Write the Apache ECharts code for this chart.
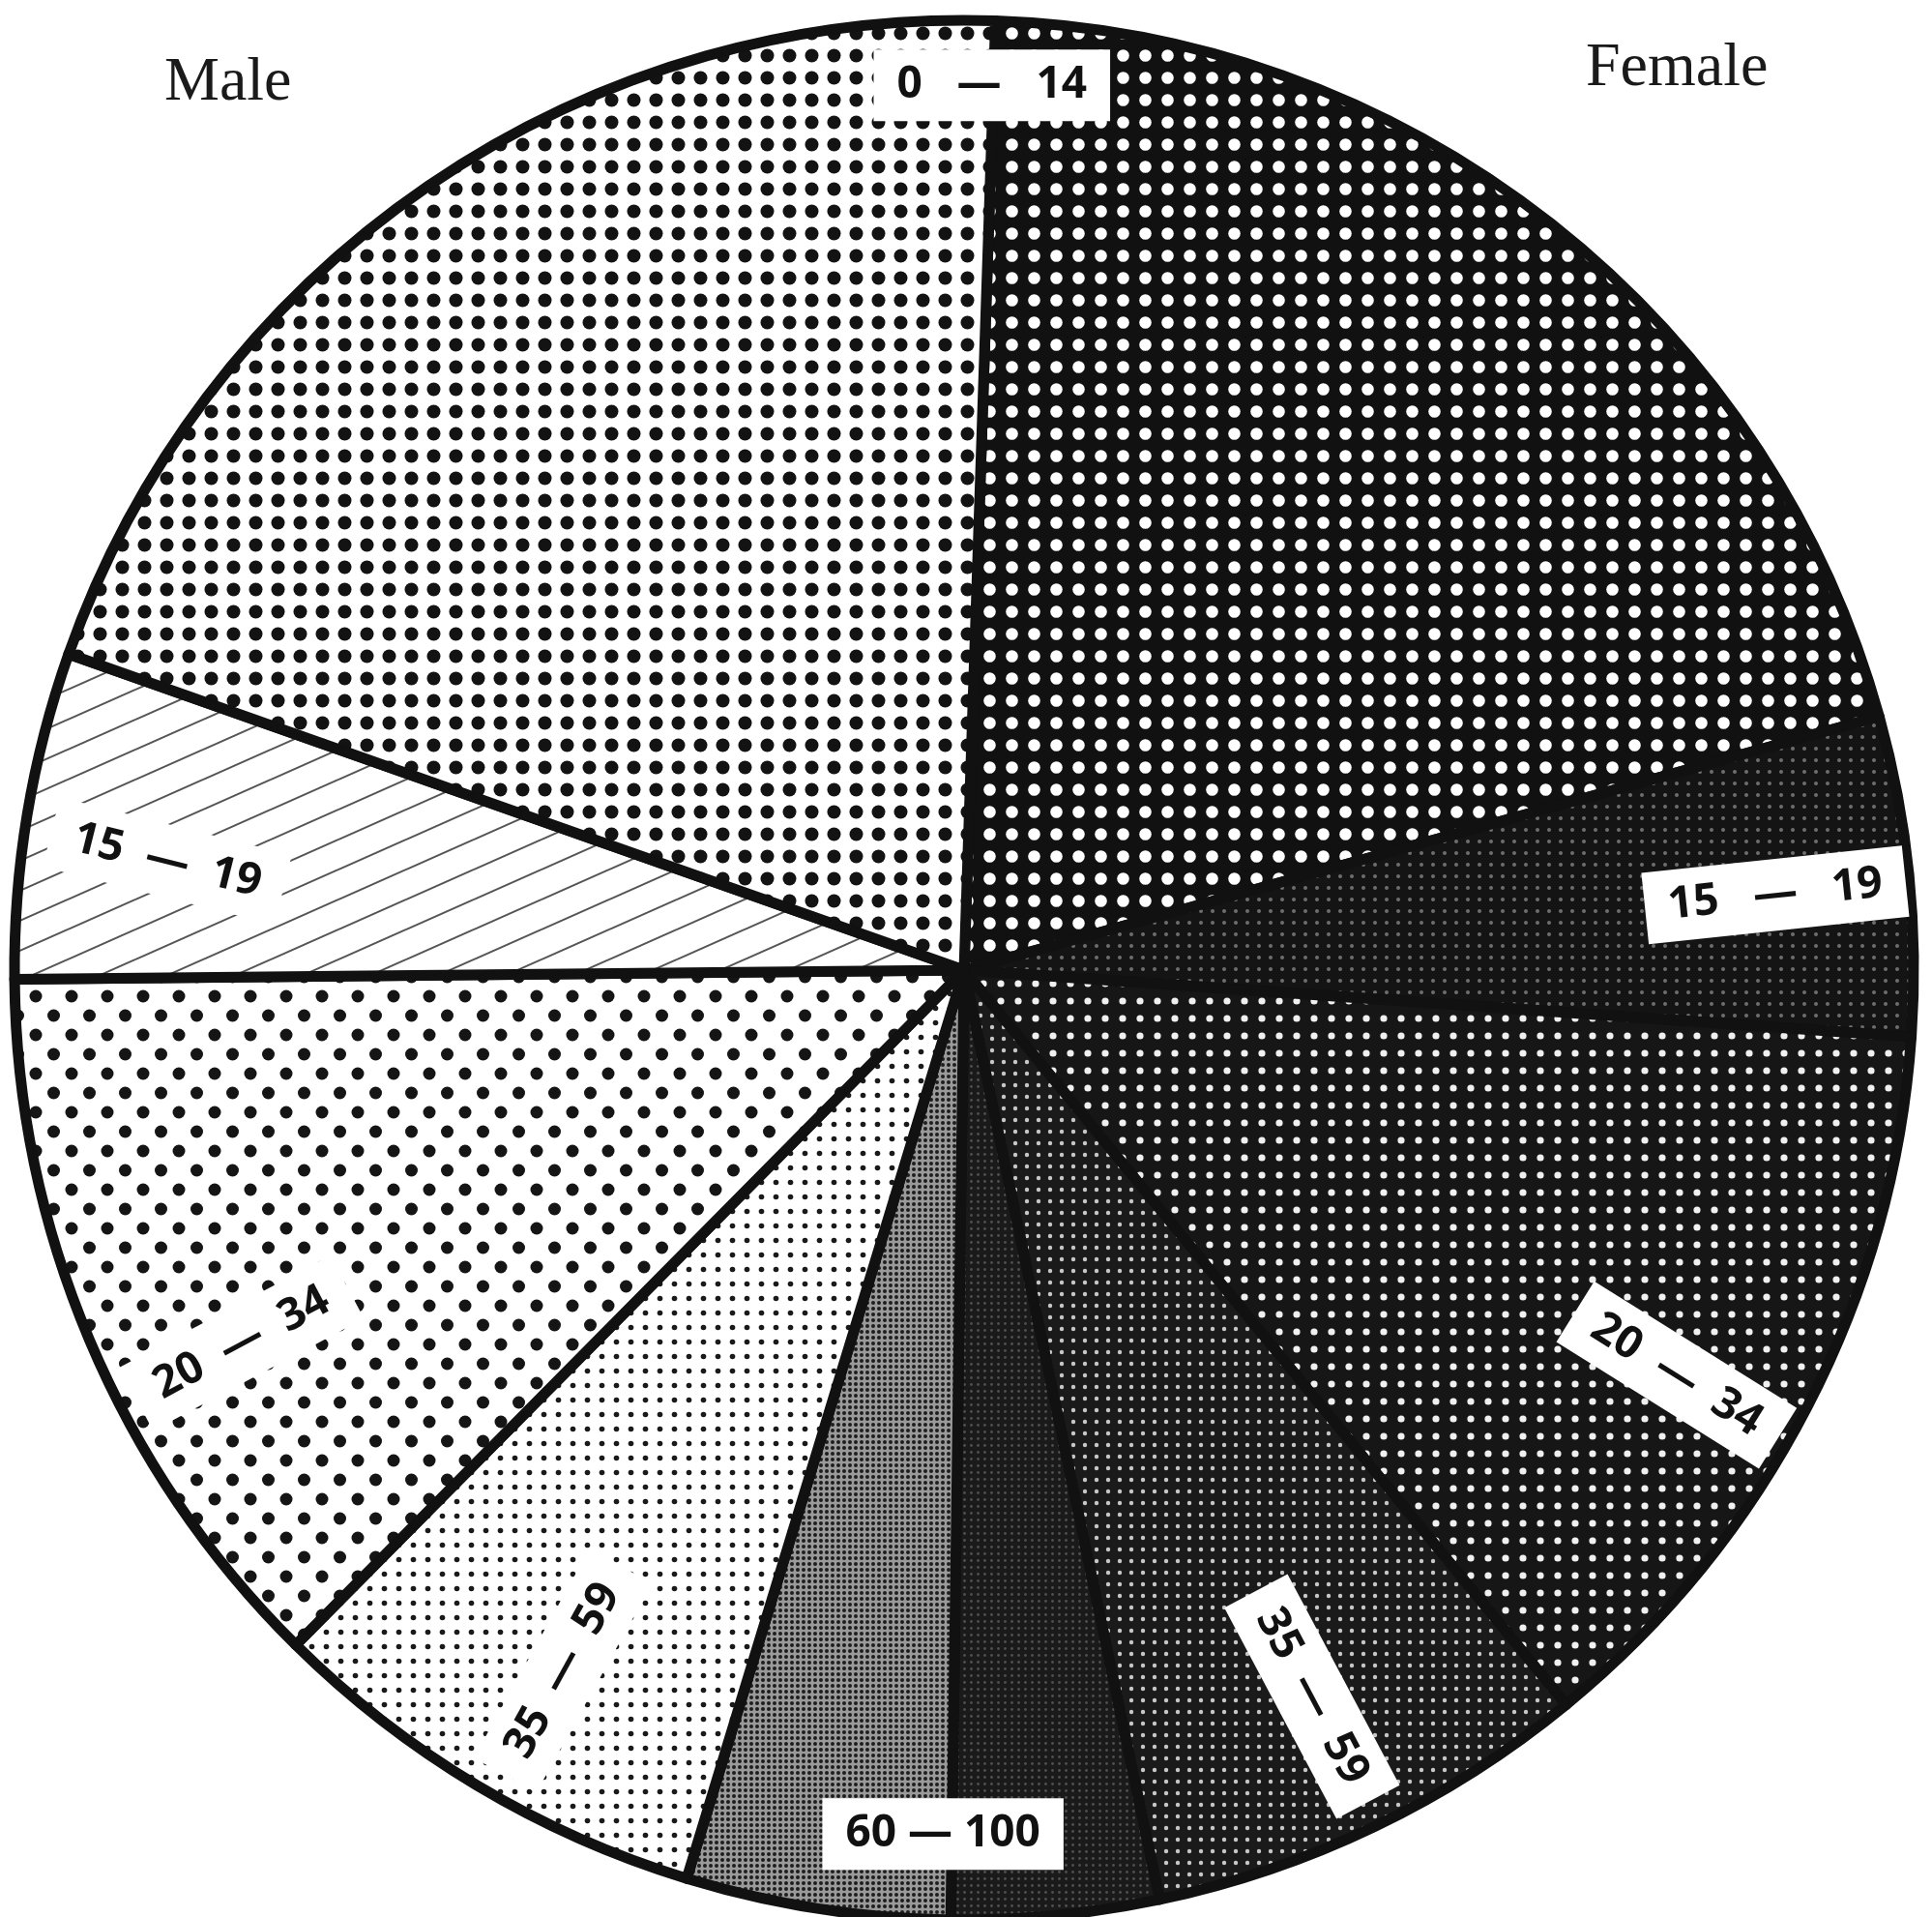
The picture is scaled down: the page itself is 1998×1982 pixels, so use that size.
<!DOCTYPE html>
<html><head><meta charset="utf-8">
<script src="https://cdn.jsdelivr.net/npm/echarts@6/dist/echarts.min.js"></script>
<style>html,body{margin:0;padding:0;background:#fff}#chart{width:1998px;height:1982px}</style>
</head><body><div id="chart"></div>
<script>
// ---- data ----
const categories = ['Female 0–14', 'Female 15–19', 'Female 20–34', 'Female 35–59', 'Female 60–100',
                    'Male 60–100', 'Male 35–59', 'Male 20–34', 'Male 15–19', 'Male 0–14'];
const values = [20.2, 5.43, 12.97, 7.64, 3.53, 4.5, 7.72, 12.44, 5.56, 20.16];
const labelTexts = ['0   —   14', '15   —   19', '20  —  34', '35  —  59', '60 — 100',
                    '', '35  —  59', '20  —  34', '15  —  19', ''];
const sideTitles = ['Male', 'Female'];

// ---- layout (not data) ----
const CX = 997, CY = 1003, R = 982;
const START_ANGLE = 88.1;
// [angle clockwise from 12 o'clock, radius fraction, rotation]
const labelPlacement = [
  [1.8, 0.932, 0], [84.7, 0.858, 6], [119.6, 0.863, -32], [154.4, 0.848, -62], [181.4, 0.91, 0],
  null, [209.8, 0.85, 61], [242.7, 0.856, 28], [277.8, 0.847, -14], null
];

// ---- pattern helpers ----
function tile(w, h, draw) {
  const c = document.createElement('canvas'); c.width = w; c.height = h;
  const g = c.getContext('2d'); draw(g, w, h); return c;
}
function squareDots(bg, fg, s, r) {
  return tile(s, s, (g) => {
    g.fillStyle = bg; g.fillRect(0, 0, s, s);
    g.fillStyle = fg; g.beginPath(); g.arc(s / 2, s / 2, r, 0, Math.PI * 2); g.fill();
  });
}
function staggerDots(bg, fg, w, h, r) {
  return tile(w, 2 * h, (g) => {
    g.fillStyle = bg; g.fillRect(0, 0, w, 2 * h);
    g.fillStyle = fg;
    [[w / 2, h / 2], [0, 1.5 * h], [w, 1.5 * h]].forEach(([x, y]) => {
      g.beginPath(); g.arc(x, y, r, 0, Math.PI * 2); g.fill();
    });
  });
}
function slantLines(bg, fg, W, H, lw) {
  return tile(W, H, (g) => {
    g.fillStyle = bg; g.fillRect(0, 0, W, H);
    g.strokeStyle = fg; g.lineWidth = lw;
    for (let k = -1; k <= 1; k++) {
      g.beginPath(); g.moveTo(-W, H * (k + 2)); g.lineTo(2 * W, H * (k - 1)); g.stroke();
    }
  });
}
const pat = (c) => ({ image: c, repeat: 'repeat' });
const patterns = [
  pat(squareDots('#111', '#fff', 23, 6.3)),      // F 0-14
  pat(squareDots('#141414', '#6e6e6e', 12, 2)),  // F 15-19
  pat(squareDots('#161616', '#f0f0f0', 18, 3.6)),// F 20-34
  pat(squareDots('#1a1a1a', '#c8c8c8', 12, 2.2)),// F 35-59
  pat(squareDots('#1a1a1a', '#505050', 7, 1.4)), // F 60-100
  pat(squareDots('#9a9a9a', '#1e1e1e', 6, 2.0)), // M 60-100
  pat(squareDots('#fff', '#1a1a1a', 15, 2.8)),   // M 35-59
  pat(staggerDots('#fff', '#151515', 37, 20, 6.5)), // M 20-34
  pat(slantLines('#fff', '#555', 70, 31, 2)),    // M 15-19
  pat(squareDots('#fff', '#131313', 23, 7))      // M 0-14
];

const chart = echarts.init(document.getElementById('chart'));
chart.setOption({
  animation: false,
  backgroundColor: '#fff',
  graphic: [
    { type: 'text', x: 170, y: 86, style: { text: sideTitles[0], font: '64px "Liberation Serif"', fill: '#1a1a1a', textVerticalAlign: 'middle' } },
    { type: 'text', x: 1640, y: 71, style: { text: sideTitles[1], font: '64px "Liberation Serif"', fill: '#1a1a1a', textVerticalAlign: 'middle' } }
  ],
  series: [{
    type: 'pie',
    center: [CX, CY],
    radius: R,
    startAngle: START_ANGLE,
    clockwise: true,
    avoidLabelOverlap: false,
    silent: true,
    itemStyle: { borderColor: '#111', borderWidth: 11, borderJoin: 'round' },
    label: {
      show: true, position: 'inside',
      formatter: (p) => labelTexts[p.dataIndex],
      fontFamily: '"Open Sans"', fontWeight: 'bold', fontSize: 46, color: '#111',
      backgroundColor: '#fff', padding: [12, 24, 10, 24], lineHeight: 52
    },
    labelLine: { show: false },
    labelLayout: (p) => {
      const pl = labelPlacement[p.dataIndex];
      if (!pl) return {};
      const a = pl[0] * Math.PI / 180;
      return { x: CX + pl[1] * R * Math.sin(a), y: CY - pl[1] * R * Math.cos(a), rotate: pl[2], align: 'center', verticalAlign: 'middle' };
    },
    emphasis: { disabled: true },
    data: categories.map((c, i) => ({
      name: c, value: values[i],
      itemStyle: { color: patterns[i] },
      label: { show: labelTexts[i] !== '' }
    }))
  }]
});
</script></body></html>
